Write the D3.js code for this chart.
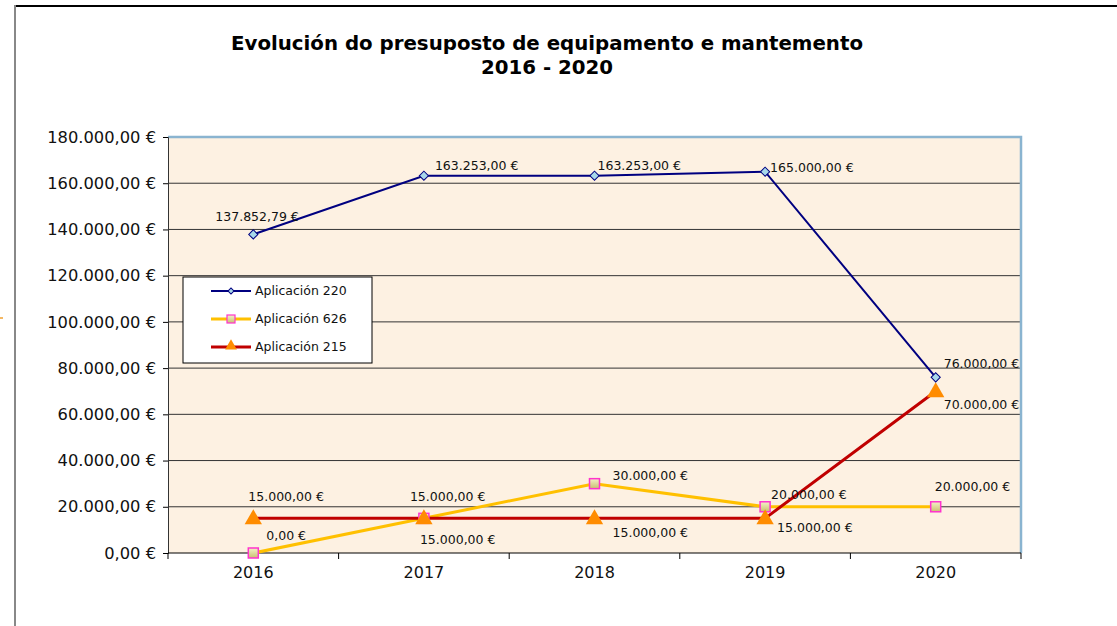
<!DOCTYPE html>
<html lang="es">
<head>
<meta charset="UTF-8">
<script src="https://cdnjs.cloudflare.com/ajax/libs/d3/7.8.5/d3.min.js"></script>
<title>Evolución do presuposto</title>
<style>
  body { margin: 0; background: #fff; }
  svg { display: block; font-family: "DejaVu Sans", Verdana, sans-serif; }
</style>
</head>
<body>
<script>
    // datos
    const years = ['2016', '2017', '2018', '2019', '2020'];
    const ap220 = [137852.79, 163253, 163253, 165000, 76000];
    const ap626 = [0, 15000, 30000, 20000, 20000];
    const ap215 = [15000, 15000, 15000, 15000, 70000];
    const yTicks = [0, 20000, 40000, 60000, 80000, 100000, 120000, 140000, 160000, 180000];
    const seriesNames = ['Aplicación 220', 'Aplicación 626', 'Aplicación 215'];

    // where each value label sits relative to its point (dx, dy)
    const off220 = [[-38, -17], [11, -9], [3, -9], [5, -3], [8, -13]];
    const off626 = [[13, -17], [-14, -21], [18, -7], [6, -11], [-1, -19]];
    const off215 = [[-5, -21], [-4, 22], [18, 15], [12, 10], [8, 14]];

    const width = 1117, height = 626;
    const pLeft = 168, pRight = 1021, pTop = 137, pBottom = 553;

    const fmt = function(v) {
        const s = v.toFixed(2).split('.');
        return s[0].replace(/\B(?=(\d{3})+(?!\d))/g, '.') + ',' + s[1] + ' €';
    };

    const svg = d3.select('body').append('svg')
        .attr('width', width).attr('height', height);

    // outer chart frame
    svg.append('line').attr('x1', 15).attr('y1', 6).attr('x2', width).attr('y2', 6)
        .attr('stroke', '#000').attr('stroke-width', 2);
    svg.append('line').attr('x1', 15).attr('y1', 5).attr('x2', 15).attr('y2', height)
        .attr('stroke', '#888').attr('stroke-width', 2);
    svg.append('line').attr('x1', 0).attr('y1', 318).attr('x2', 3).attr('y2', 318)
        .attr('stroke', '#f0a030').attr('stroke-width', 1.5);

    svg.append('text').attr('x', 547).attr('y', 50).attr('text-anchor', 'middle')
        .attr('font-size', 19.8).attr('font-weight', 'bold')
        .text('Evolución do presuposto de equipamento e mantemento');
    svg.append('text').attr('x', 547).attr('y', 74).attr('text-anchor', 'middle')
        .attr('font-size', 19.8).attr('font-weight', 'bold')
        .text('2016 - 2020');

    const x = d3.scaleBand().domain(years).range([pLeft, pRight]);
    const y = d3.scaleLinear().domain([0, 180000]).range([pBottom, pTop]);
    const cx = function(i) { return x(years[i]) + x.bandwidth() / 2; };

    svg.append('rect').attr('x', pLeft).attr('y', pTop)
        .attr('width', pRight - pLeft).attr('height', pBottom - pTop)
        .attr('fill', '#fdf1e2');

    // gridlines
    svg.append('g').selectAll('line').data(yTicks.slice(1, -1)).enter()
        .append('line')
        .attr('x1', pLeft).attr('x2', pRight)
        .attr('y1', function(d) { return y(d); }).attr('y2', function(d) { return y(d); })
        .attr('stroke', '#333').attr('stroke-width', 1);

    // plot border (top/right bluish)
    svg.append('path')
        .attr('d', 'M' + pLeft + ',' + pTop + 'H' + pRight + 'V' + pBottom)
        .attr('fill', 'none').attr('stroke', '#8ab4d0').attr('stroke-width', 2.5);

    // y axis
    const yAxis = d3.axisLeft(y).tickValues(yTicks).tickSize(5).tickFormat(fmt);
    const gy = svg.append('g').attr('transform', 'translate(' + pLeft + ',0)').call(yAxis);
    gy.select('.domain').attr('stroke', '#333');
    gy.selectAll('.tick line').attr('stroke', '#000');
    gy.selectAll('text').attr('font-size', 16.3).attr('fill', '#111')
        .attr('font-family', '"DejaVu Sans", Verdana, sans-serif').attr('dx', -4);

    // x axis with ticks at band boundaries
    const xAxis = d3.axisBottom(x).tickSize(0).tickPadding(14);
    const gx = svg.append('g').attr('transform', 'translate(0,' + pBottom + ')').call(xAxis);
    gx.select('.domain').remove();
    gx.selectAll('text').attr('font-size', 16).attr('fill', '#111')
        .attr('font-family', '"DejaVu Sans", Verdana, sans-serif');
    svg.append('line').attr('x1', pLeft).attr('x2', pRight).attr('y1', pBottom).attr('y2', pBottom)
        .attr('stroke', '#000').attr('stroke-width', 1);
    const edges = years.map(function(d) { return x(d); }).concat([pRight]);
    svg.append('g').selectAll('line').data(edges).enter().append('line')
        .attr('x1', function(d) { return d; }).attr('x2', function(d) { return d; })
        .attr('y1', pBottom).attr('y2', pBottom + 6)
        .attr('stroke', '#000');

    const line = d3.line()
        .x(function(d, i) { return cx(i); })
        .y(function(d) { return y(d); });

    const grad = svg.append('defs').append('linearGradient').attr('id', 'sq')
        .attr('x1', 0).attr('y1', 0).attr('x2', 0).attr('y2', 1);
    grad.append('stop').attr('offset', '0%').attr('stop-color', '#f4f2c8');
    grad.append('stop').attr('offset', '100%').attr('stop-color', '#c8c070');

    function labels(data, offs) {
        svg.append('g').selectAll('text').data(data).enter().append('text')
            .attr('x', function(d, i) { return cx(i) + offs[i][0]; })
            .attr('y', function(d, i) { return y(d) + offs[i][1]; })
            .attr('dominant-baseline', 'middle')
            .attr('font-size', 12.5).attr('fill', '#111')
            .text(fmt);
    }

    // Aplicación 626
    svg.append('path').datum(ap626).attr('d', line)
        .attr('fill', 'none').attr('stroke', '#ffc000').attr('stroke-width', 3);
    // Aplicación 215
    svg.append('path').datum(ap215).attr('d', line)
        .attr('fill', 'none').attr('stroke', '#c00000').attr('stroke-width', 3);
    // Aplicación 220
    svg.append('path').datum(ap220).attr('d', line)
        .attr('fill', 'none').attr('stroke', '#000080').attr('stroke-width', 2);

    const sym = d3.symbol();
    svg.append('g').selectAll('path').data(ap626).enter().append('rect')
        .attr('x', function(d, i) { return cx(i) - 5; })
        .attr('y', function(d) { return y(d) - 5; })
        .attr('width', 10).attr('height', 10)
        .attr('fill', 'url(#sq)').attr('stroke', '#ff33cc').attr('stroke-width', 1.5);
    svg.append('g').selectAll('path').data(ap215).enter().append('path')
        .attr('transform', function(d, i) { return 'translate(' + cx(i) + ',' + (y(d) + 1) + ')'; })
        .attr('d', sym.type(d3.symbolTriangle).size(130)())
        .attr('fill', '#ff8c00');
    // diamonds: squares rotated 45deg
    svg.append('g').selectAll('path').data(ap220).enter().append('path')
        .attr('transform', function(d, i) { return 'translate(' + cx(i) + ',' + y(d) + ') rotate(45)'; })
        .attr('d', sym.type(d3.symbolSquare).size(42)())
        .attr('fill', '#a8d8ea').attr('stroke', '#000080').attr('stroke-width', 1);

    labels(ap220, off220);
    labels(ap626, off626);
    labels(ap215, off215);

    // legend
    const lg = svg.append('g').attr('transform', 'translate(183,277)');
    lg.append('rect').attr('width', 189).attr('height', 86)
        .attr('fill', '#fff').attr('stroke', '#000').attr('stroke-width', 1);
    const lColors = ['#000080', '#ffc000', '#c00000'];
    const lWidths = [2, 3, 3];
    const items = lg.selectAll('g.item').data(seriesNames).enter().append('g')
        .attr('transform', function(d, i) { return 'translate(0,' + (14 + i * 28) + ')'; });
    items.append('line').attr('x1', 28).attr('x2', 68).attr('y1', 0).attr('y2', 0)
        .attr('stroke', function(d, i) { return lColors[i]; })
        .attr('stroke-width', function(d, i) { return lWidths[i]; });
    items.each(function(d, i) {
        const g = d3.select(this);
        if (i === 0) {
            g.append('path').attr('transform', 'translate(48,0) rotate(45)')
                .attr('d', d3.symbol().type(d3.symbolSquare).size(18)())
                .attr('fill', '#a8d8ea').attr('stroke', '#000080');
        } else if (i === 1) {
            g.append('rect').attr('x', 44).attr('y', -4).attr('width', 8).attr('height', 8)
                .attr('fill', 'url(#sq)').attr('stroke', '#ff33cc').attr('stroke-width', 1.2);
        } else {
            g.append('path').attr('transform', 'translate(48,-1)')
                .attr('d', d3.symbol().type(d3.symbolTriangle).size(60)())
                .attr('fill', '#ff8c00');
        }
    });
    items.append('text').attr('x', 72).attr('y', 0).attr('dominant-baseline', 'middle')
        .attr('font-size', 12.5).attr('fill', '#111').text(function(d) { return d; });
</script>
</body>
</html>
